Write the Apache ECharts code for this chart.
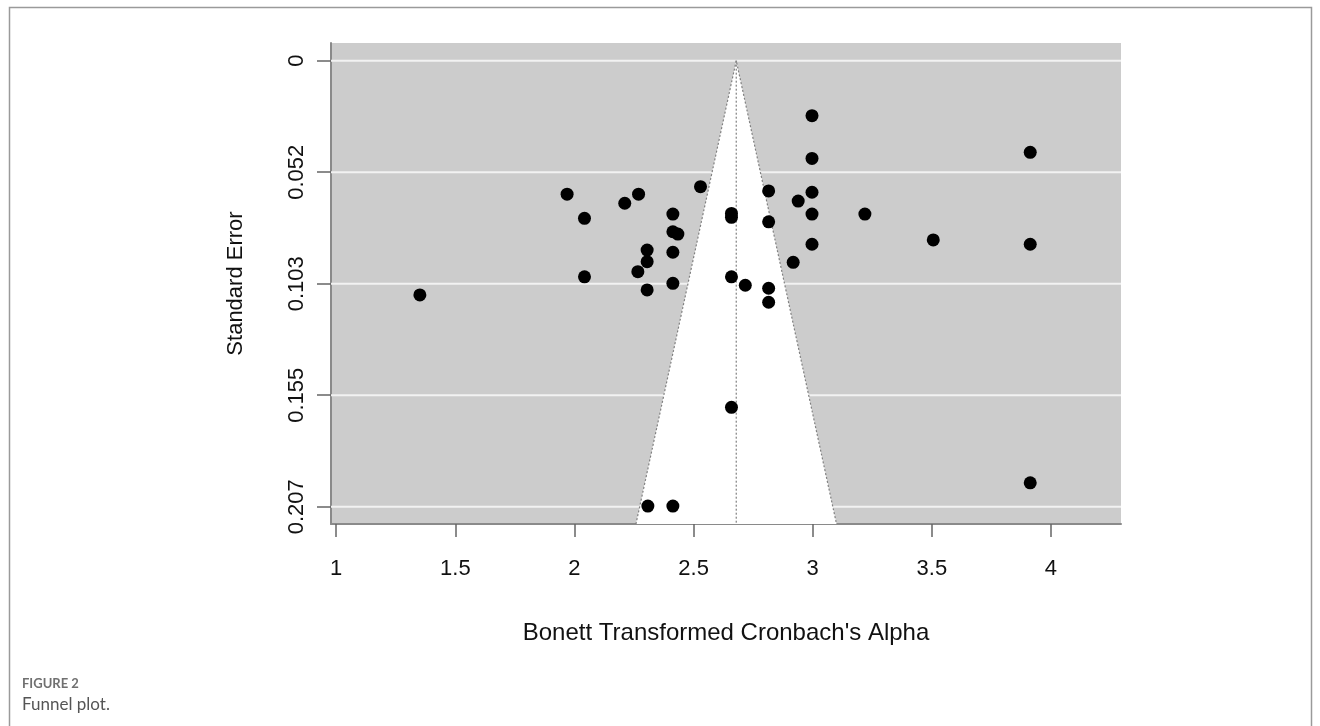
<!DOCTYPE html>
<html>
<head>
<meta charset="utf-8">
<script src="https://cdn.jsdelivr.net/npm/echarts@6/dist/echarts.min.js"></script>
<style>
html,body{margin:0;padding:0;background:#fff;}
#chart{width:1320px;height:726px;}
</style>
</head>
<body>
<div id="chart"></div>
<script>
// ---- data ----
const xTicks = [1, 1.5, 2, 2.5, 3, 3.5, 4];
const seTicks = [0, 0.0517, 0.1034, 0.1551, 0.2068];
const seTickLabels = ['0', '0.052', '0.103', '0.155', '0.207'];

const alphaValues = [
  1.351, 1.969, 2.269, 2.211, 2.042, 2.413, 2.413, 2.434, 2.305, 2.305,
  2.413, 2.266, 2.042, 2.413, 2.305, 2.529, 2.997, 2.997, 2.815, 2.997,
  2.939, 2.997, 2.659, 2.659, 2.815, 2.997, 2.918, 2.659, 2.717, 2.815,
  2.815, 3.913, 3.219, 3.506, 3.913, 3.913, 2.659, 2.308, 2.413
];
const seValues = [
  0.1086, 0.0619, 0.0619, 0.0661, 0.0731, 0.0711, 0.0793, 0.0804, 0.0878, 0.0932,
  0.0888, 0.0978, 0.1002, 0.1032, 0.1063, 0.0584, 0.0255, 0.0453, 0.0604, 0.0610,
  0.0651, 0.0711, 0.0708, 0.0726, 0.0747, 0.0851, 0.0935, 0.1002, 0.1041, 0.1055,
  0.1120, 0.0425, 0.0711, 0.0831, 0.0851, 0.1957, 0.1607, 0.2065, 0.2065
];

const funnelCenter = 2.679;
const funnelApex = [2.679, 0];
const funnelBottomLeft = [2.258, 0.2148];
const funnelBottomRight = [3.100, 0.2148];

const xMin = 0.978, xMax = 4.294;
const seMin = -0.0082, seMax = 0.2148;

// ---- chart ----
const chart = echarts.init(document.getElementById('chart'), null, {renderer: 'canvas'});

const points = alphaValues.map((a, i) => [a, seValues[i]]);

const gridSeries = seTicks.map(v => ({
  type: 'line',
  data: [[xMin, v], [xMax, v]],
  symbol: 'none',
  silent: true,
  z: 1,
  lineStyle: {color: '#f2f2f2', width: 2},
  animation: false
}));

const option = {
  animation: false,
  backgroundColor: '#ffffff',
  textStyle: {fontFamily: 'Liberation Sans, Arial, sans-serif'},
  graphic: [
    {
      type: 'rect',
      shape: {x: 9.5, y: 7.5, width: 1302, height: 740},
      style: {fill: 'none', stroke: '#9a9a9a', lineWidth: 1.5},
      silent: true, z: 0
    },
    {
      type: 'text', left: 22, top: 677,
      style: {text: 'FIGURE 2', fill: '#707070', font: 'bold 13px Lato, "Open Sans", sans-serif'}
    },
    {
      type: 'text', left: 22, top: 696,
      style: {text: 'Funnel plot.', fill: '#555555', font: '17px Lato, "Open Sans", sans-serif'}
    }
  ],
  grid: {
    left: 331, right: 199, top: 43, bottom: 202,
    show: true, backgroundColor: '#cccccc', borderWidth: 0,
    containLabel: false
  },
  xAxis: {
    type: 'value',
    min: xMin, max: xMax,
    name: "Bonett Transformed Cronbach's Alpha",
    nameLocation: 'middle',
    nameGap: 97,
    nameTextStyle: {fontSize: 24, color: '#111', fontFamily: 'Liberation Sans, Arial, sans-serif'},
    axisLine: {show: true, onZero: false, lineStyle: {color: '#8a8a8a', width: 2}},
    axisTick: {show: true, customValues: xTicks, length: 13, lineStyle: {color: '#666', width: 1.5}},
    axisLabel: {
      show: true, customValues: xTicks, margin: 34,
      fontSize: 22, color: '#111',
      formatter: v => String(v)
    },
    splitLine: {show: false}
  },
  yAxis: {
    type: 'value',
    inverse: true,
    min: seMin, max: seMax,
    name: 'Standard Error',
    nameLocation: 'middle',
    nameGap: 84,
    nameRotate: 90,
    nameTextStyle: {fontSize: 22, color: '#111', fontFamily: 'Liberation Sans, Arial, sans-serif'},
    axisLine: {show: true, onZero: false, lineStyle: {color: '#8a8a8a', width: 2}},
    axisTick: {show: true, customValues: seTicks, length: 14, lineStyle: {color: '#666', width: 1.5}},
    axisLabel: {
      show: true, customValues: seTicks, margin: 23, rotate: 90,
      fontSize: 22, color: '#111',
      formatter: v => {
        let best = 0, d = Infinity;
        seTicks.forEach((t, i) => { if (Math.abs(t - v) < d) { d = Math.abs(t - v); best = i; } });
        return seTickLabels[best];
      }
    },
    splitLine: {show: false}
  },
  series: [
    ...gridSeries,
    {
      type: 'custom',
      z: 2,
      silent: true,
      data: [[funnelCenter, 0]],
      renderItem: (params, api) => {
        const pts = [funnelBottomLeft, funnelApex, funnelBottomRight].map(p => api.coord(p));
        return {type: 'polygon', shape: {points: pts}, style: {fill: '#ffffff'}};
      }
    },
    {
      type: 'line',
      z: 3,
      silent: true,
      symbol: 'none',
      data: [funnelBottomLeft, funnelApex, funnelBottomRight],
      lineStyle: {color: '#808080', width: 1.2, type: [2, 2]}
    },
    {
      type: 'line',
      z: 3,
      silent: true,
      symbol: 'none',
      data: [[funnelCenter, 0], [funnelCenter, seMax]],
      lineStyle: {color: '#808080', width: 1.2, type: [2, 2]}
    },
    {
      type: 'scatter',
      z: 5,
      symbol: 'circle',
      symbolSize: 13,
      itemStyle: {color: '#000000', opacity: 1},
      data: points
    }
  ]
};

chart.setOption(option);
</script>
</body>
</html>
